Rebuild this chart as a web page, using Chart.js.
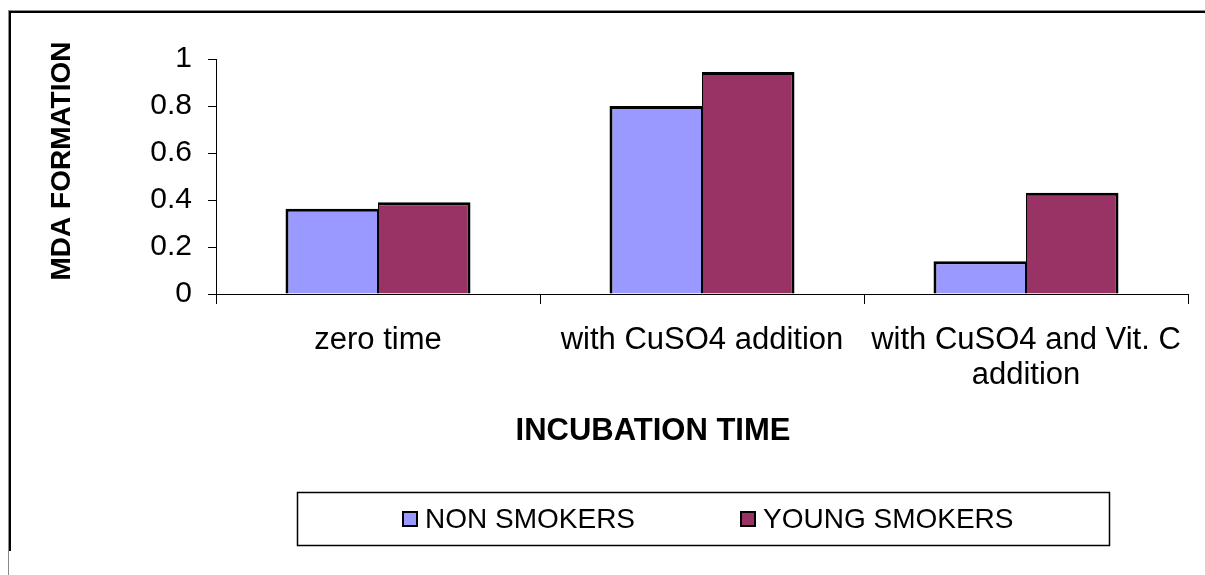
<!DOCTYPE html>
<html>
<head>
<meta charset="utf-8">
<script src="https://cdn.jsdelivr.net/npm/chart.js@4/dist/chart.umd.min.js"></script>
<style>
  html, body { margin: 0; padding: 0; background: #fff; }
  #wrap { width: 1205px; height: 575px; position: relative; }
</style>
</head>
<body>
<div id="wrap"><canvas id="c" width="1205" height="575"></canvas></div>
<script>
// Incubation stage categories (third label wraps onto two lines)
const categories = ['zero time', 'with CuSO4 addition', ['with CuSO4 and Vit. C', 'addition']];
const seriesNames = ['NON SMOKERS', 'YOUNG SMOKERS'];
const nonSmokers = [0.363, 0.80, 0.139];
const youngSmokers = [0.39, 0.945, 0.431];
const yTicks = [0, 0.2, 0.4, 0.6, 0.8, 1];
const xTitle = 'INCUBATION TIME';
const yTitle = 'MDA FORMATION';

const seriesColors = ['#9999FF', '#993366'];
const FONT = '"Liberation Sans", Arial, Helvetica, sans-serif';

// Frame, axis titles and boxed legend drawn on the canvas
const decorations = {
  id: 'decorations',
  afterDraw(chart) {
    const ctx = chart.ctx;
    ctx.save();

    // outer frame (top and left edges)
    ctx.fillStyle = '#8a8a8a';
    ctx.fillRect(8, 10, 1197, 1);
    ctx.fillRect(8, 10, 1, 565);
    ctx.fillStyle = '#000';
    ctx.fillRect(9, 11, 1196, 2);
    ctx.fillRect(9, 11, 2, 540);

    // axis titles
    ctx.fillStyle = '#000';
    ctx.textAlign = 'center';
    ctx.textBaseline = 'middle';
    ctx.font = 'bold 31px ' + FONT;
    ctx.fillText(xTitle, 653, 431);
    ctx.save();
    ctx.translate(62, 161);
    ctx.rotate(-Math.PI / 2);
    ctx.font = 'bold 28px ' + FONT;
    ctx.fillText(yTitle, 0, 0);
    ctx.restore();

    // legend box
    ctx.lineWidth = 1.5;
    ctx.strokeStyle = '#000';
    ctx.strokeRect(297.5, 492.5, 812, 53);
    const itemX = [403, 741];
    const cy = 519;
    ctx.font = '28px ' + FONT;
    ctx.textAlign = 'left';
    chart.data.datasets.forEach((ds, i) => {
      const x = itemX[i];
      ctx.fillStyle = ds.backgroundColor;
      ctx.fillRect(x, cy - 7, 14, 14);
      ctx.lineWidth = 2;
      ctx.strokeRect(x, cy - 7, 14, 14);
      ctx.fillStyle = '#000';
      ctx.fillText(ds.label, x + 22, cy + 1);
    });
    ctx.restore();
  }
};

new Chart(document.getElementById('c'), {
  type: 'bar',
  data: {
    labels: categories,
    datasets: [
      { label: seriesNames[0], data: nonSmokers, backgroundColor: seriesColors[0],
        borderColor: '#000', borderSkipped: false,
        borderWidth: { left: 3, top: 3, right: 1, bottom: 0 } },
      { label: seriesNames[1], data: youngSmokers, backgroundColor: seriesColors[1],
        borderColor: '#000', borderSkipped: false,
        borderWidth: { left: 1, top: 3, right: 3, bottom: 0 } }
    ]
  },
  options: {
    responsive: false,
    animation: false,
    devicePixelRatio: 1,
    layout: { padding: { left: 0, top: 59, right: 17, bottom: 0 } },
    datasets: { bar: { categoryPercentage: 0.571, barPercentage: 1.0 } },
    plugins: { legend: { display: false }, tooltip: { enabled: false }, title: { display: false } },
    scales: {
      x: {
        offset: true,
        grid: { offset: true, drawOnChartArea: false, drawTicks: true, tickLength: 10, color: '#000', lineWidth: 1 },
        border: { display: true, color: '#000', width: 1 },
        ticks: {
          color: '#000', padding: 18, maxRotation: 0, autoSkip: false,
          font: { family: FONT, size: 31, lineHeight: 1.16 }
        },
        afterFit(scale) { scale.height = 281; }
      },
      y: {
        min: 0, max: 1,
        afterBuildTicks(scale) { scale.ticks = yTicks.map(v => ({ value: v })); },
        grid: { drawOnChartArea: false, drawTicks: true, tickLength: 8, color: '#000', lineWidth: 1 },
        border: { display: true, color: '#000', width: 1 },
        ticks: {
          color: '#000', padding: 16,
          font: { family: FONT, size: 30 },
          callback: (v) => String(v)
        },
        afterFit(scale) { scale.width = 216; }
      }
    }
  },
  plugins: [decorations]
});
</script>
</body>
</html>
